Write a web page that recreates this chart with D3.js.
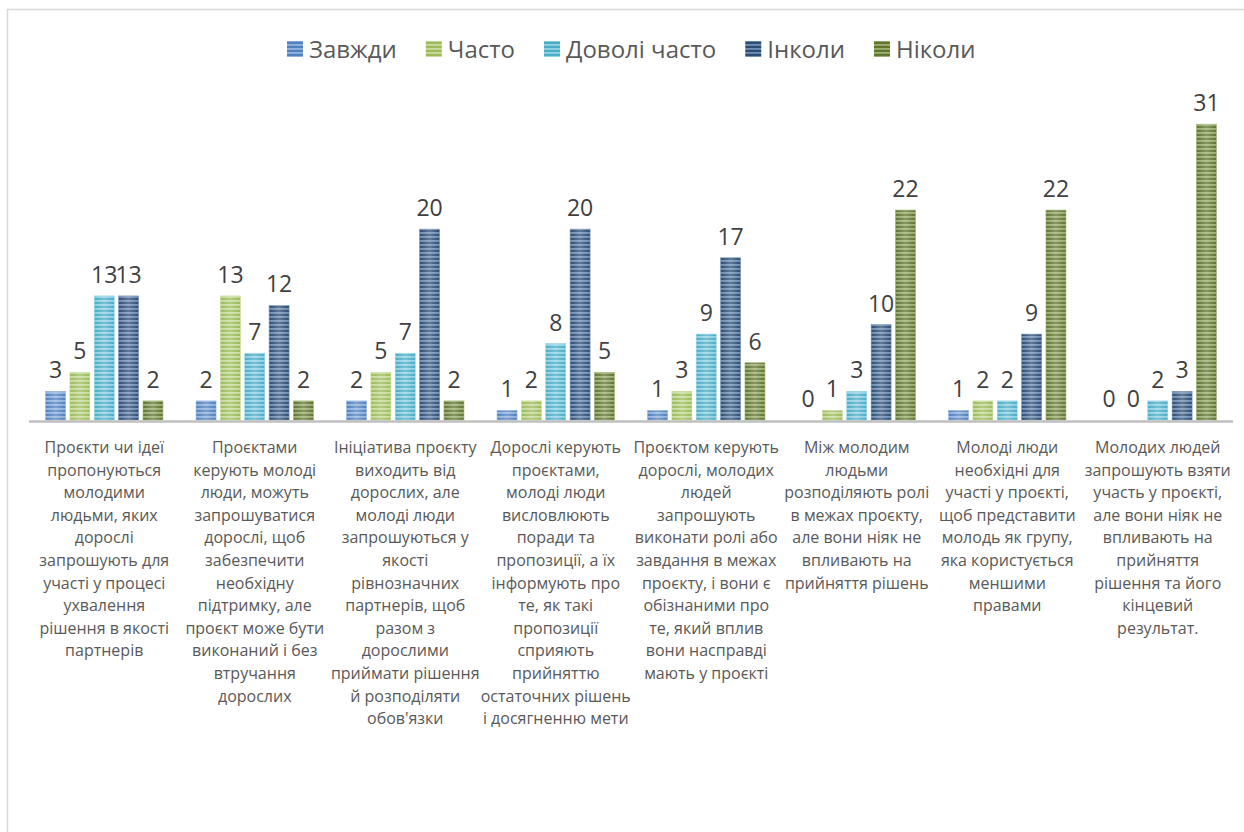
<!DOCTYPE html>
<html><head><meta charset="utf-8">
<script src="https://cdn.jsdelivr.net/npm/d3@7"></script>
<style>
html,body{margin:0;padding:0;background:#fff;}
svg{display:block;}
text{font-family:"Open Sans","Noto Sans",sans-serif;}
</style></head>
<body>
<svg id="chart" width="1244" height="832"></svg>
<script>
const categories = [
  "Проєкти чи ідеї\nпропонуються\nмолодими\nлюдьми, яких\nдорослі\nзапрошують для\nучасті у процесі\nухвалення\nрішення в якості\nпартнерів",
  "Проєктами\nкерують молоді\nлюди, можуть\nзапрошуватися\nдорослі, щоб\nзабезпечити\nнеобхідну\nпідтримку, але\nпроєкт може бути\nвиконаний і без\nвтручання\nдорослих",
  "Ініціатива проєкту\nвиходить від\nдорослих, але\nмолоді люди\nзапрошуються у\nякості\nрівнозначних\nпартнерів, щоб\nразом з\nдорослими\nприймати рішення\nй розподіляти\nобов'язки",
  "Дорослі керують\nпроєктами,\nмолоді люди\nвисловлюють\nпоради та\nпропозиції, а їх\nінформують про\nте, як такі\nпропозиції\nсприяють\nприйняттю\nостаточних рішень\nі досягненню мети",
  "Проєктом керують\nдорослі, молодих\nлюдей\nзапрошують\nвиконати ролі або\nзавдання в межах\nпроєкту, і вони є\nобізнаними про\nте, який вплив\nвони насправді\nмають у проєкті",
  "Між молодим\nлюдьми\nрозподіляють ролі\nв межах проєкту,\nале вони ніяк не\nвпливають на\nприйняття рішень",
  "Молоді люди\nнеобхідні для\nучасті у проєкті,\nщоб представити\nмолодь як групу,\nяка користується\nменшими\nправами",
  "Молодих людей\nзапрошують взяти\nучасть у проєкті,\nале вони ніяк не\nвпливають на\nприйняття\nрішення та його\nкінцевий\nрезультат."
];
const seriesNames = ["Завжди", "Часто", "Доволі часто", "Інколи", "Ніколи"];
const zavzhdy     = [3, 2, 2, 1, 1, 0, 1, 0];
const chasto      = [5, 13, 5, 2, 3, 1, 2, 0];
const dovoliChasto= [13, 7, 7, 8, 9, 3, 2, 2];
const inkoly      = [13, 12, 20, 20, 17, 10, 9, 3];
const nikoly      = [2, 2, 2, 5, 6, 22, 22, 31];
const seriesValues = [zavzhdy, chasto, dovoliChasto, inkoly, nikoly];
const seriesColors = ["#4F81BD", "#9BBB59", "#4BACC6", "#2C4D75", "#5F7530"];
const stripeColors = ["#93B3DE", "#C9DC9E", "#93D3E4", "#7390B5", "#9DB072"];

const svg = d3.select("#chart");
const defs = svg.append("defs");

// chart frame
svg.append("rect").attr("x", 7.5).attr("y", 9.5).attr("width", 1260).attr("height", 860)
  .attr("fill", "#fff").attr("stroke", "#D9D9D9").attr("stroke-width", 1.5);

// patterns
seriesNames.forEach((s, i) => {
  const p = defs.append("pattern").attr("id", "pat" + i)
    .attr("patternUnits", "userSpaceOnUse").attr("width", 8).attr("height", 4);
  p.append("rect").attr("width", 8).attr("height", 4).attr("fill", seriesColors[i]);
  p.append("rect").attr("y", 0).attr("width", 8).attr("height", 1.8).attr("fill", stripeColors[i]);
});
const g = defs.append("linearGradient").attr("id", "shine").attr("x1", 0).attr("x2", 1).attr("y1", 0).attr("y2", 0);
g.append("stop").attr("offset", "0%").attr("stop-color", "#fff").attr("stop-opacity", 0.0);
g.append("stop").attr("offset", "50%").attr("stop-color", "#fff").attr("stop-opacity", 0.25);
g.append("stop").attr("offset", "100%").attr("stop-color", "#fff").attr("stop-opacity", 0.0);

const x0 = d3.scaleBand().domain(d3.range(categories.length)).range([29, 1233]).padding(0);
const bw = x0.bandwidth();
const x1 = d3.scaleBand().domain(d3.range(seriesNames.length)).range([bw * 0.11, bw * 0.89]).paddingInner(0.18);
const y = d3.scaleLinear().domain([0, 35]).range([420, 86]);

// bars
const groups = svg.append("g").selectAll("g").data(categories).join("g")
  .attr("transform", (d, i) => `translate(${x0(i)},0)`);
groups.each(function(c, ci) {
  const gg = d3.select(this);
  seriesNames.forEach((s, si) => {
    const v = seriesValues[si][ci];
    const h = y(0) - y(v);
    if (v > 0) {
      gg.append("rect").attr("x", x1(si)).attr("y", y(v)).attr("width", x1.bandwidth()).attr("height", h)
        .attr("fill", `url(#pat${si})`).attr("stroke", stripeColors[si]).attr("stroke-width", 0.6);
      gg.append("rect").attr("x", x1(si)).attr("y", y(v)).attr("width", x1.bandwidth()).attr("height", h)
        .attr("fill", "url(#shine)");
    }
    gg.append("text").attr("x", x1(si) + x1.bandwidth() / 2).attr("y", y(v) - 13)
      .attr("text-anchor", "middle").attr("font-size", 23).attr("fill", "#404040").text(v);
  });
});

// axis line
svg.append("line").attr("x1", 29).attr("x2", 1233).attr("y1", 421.5).attr("y2", 421.5)
  .attr("stroke", "#BFBFBF").attr("stroke-width", 2.5);

// category labels
categories.forEach((c, ci) => {
  const t = svg.append("text").attr("text-anchor", "middle").attr("font-size", 16).attr("fill", "#595959");
  c.split("\n").forEach((line, li) => {
    t.append("tspan").attr("x", x0(ci) + bw / 2).attr("y", 453 + li * 22.6).text(line);
  });
});

// legend
const leg = svg.append("g");
let lx = 287;
seriesNames.forEach((s, i) => {
  leg.append("rect").attr("x", lx).attr("y", 41).attr("width", 16).attr("height", 16).attr("fill", `url(#pat${i})`);
  const t = leg.append("text").attr("x", lx + 22).attr("y", 58).attr("font-size", 24).attr("fill", "#595959").text(s);
  lx += 22 + t.node().getComputedTextLength() + 29;
});
</script>
</body></html>
